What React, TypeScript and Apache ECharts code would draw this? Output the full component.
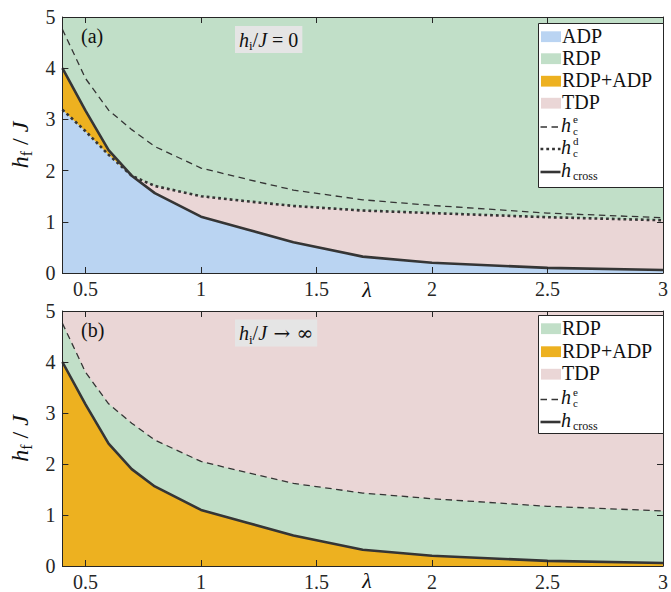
import React, { useEffect, useRef } from "react";
import * as echarts from "echarts";

// ---- data ----
const lambda = [0.4, 0.5, 0.6, 0.7, 0.8, 1.0, 1.2, 1.4, 1.7, 2.0, 2.5, 3.0];
const hCross = [4.0, 3.17, 2.4, 1.9, 1.56, 1.1, 0.85, 0.6, 0.32, 0.2, 0.1, 0.06];
const hcE = [4.76, 3.8, 3.18, 2.8, 2.47, 2.05, 1.83, 1.62, 1.43, 1.32, 1.17, 1.08];
const hcD = [3.19, 2.77, 2.31, 1.9, 1.7, 1.5, 1.4, 1.31, 1.22, 1.17, 1.09, 1.03];
const xTicks = [0.5, 1, 1.5, 2, 2.5, 3];
const legendAreasA = ["ADP", "RDP", "RDP+ADP", "TDP"];
const legendAreasB = ["RDP", "RDP+ADP", "TDP"];

const FONT = "'Liberation Serif', 'DejaVu Serif', serif";
const AX = "#262626";
const LINE = "#353535";
const TXT = "#111111";
const COL: Record<string, string> = {
  ADP: "#bad4f2",
  RDP: "#c1dfc8",
  "RDP+ADP": "#edb120",
  TDP: "#ead6d6",
};

const hMin = hCross.map((v, i) => Math.min(v, hcD[i]));

const pts = (ys: number[]) => lambda.map((x, i) => [x, ys[i]]);

const area = (name: string, ys: number[], color: string, idx: number) => ({
  name,
  type: "line",
  xAxisIndex: idx * 2,
  yAxisIndex: idx * 2,
  data: pts(ys),
  symbol: "none",
  silent: true,
  lineStyle: { width: 0, opacity: 0 },
  areaStyle: { color, opacity: 1 },
});

const curve = (name: string, ys: number[], style: any, idx: number) => ({
  name,
  type: "line",
  xAxisIndex: idx * 2,
  yAxisIndex: idx * 2,
  data: pts(ys),
  symbol: "none",
  silent: true,
  lineStyle: { color: LINE, cap: "butt", join: "round", ...style },
});

const SOLID = { width: 2.6, type: "solid" };
const DASHED = { width: 1.3, type: [6.5, 4.5] };
const DOTTED = { width: 2.6, type: [2.8, 3] };

const richMath = (size: number) => ({
  h: { fontSize: size, fontStyle: "italic", fontFamily: FONT, lineHeight: size + 5, color: TXT },
  s: {
    fontSize: Math.round(size * 0.65),
    fontFamily: FONT,
    lineHeight: Math.round(size * 0.65),
    verticalAlign: "bottom",
    color: TXT,
  },
  m: { fontSize: size, fontFamily: FONT, lineHeight: size + 5, color: TXT },
  a: { fontSize: size, fontFamily: "'DejaVu Serif', serif", lineHeight: size + 5, color: TXT },
});

const txt = (
  x: number,
  y: number,
  text: string,
  size: number,
  italic = false,
  align = "left",
  lineHeight?: number
) => ({
  type: "text",
  x,
  y,
  z: 100,
  silent: true,
  style: {
    text,
    fontSize: size,
    fontFamily: FONT,
    fontStyle: italic ? "italic" : "normal",
    fill: TXT,
    align,
    textAlign: align,
    verticalAlign: "middle",
    textVerticalAlign: "middle",
    ...(lineHeight ? { lineHeight } : {}),
  },
});

const mathBox = (x: number, y: number, text: string) => ({
  type: "text",
  x,
  y,
  z: 100,
  silent: true,
  style: {
    text,
    rich: richMath(20),
    fontFamily: FONT,
    fontSize: 20,
    fill: TXT,
    backgroundColor: "#e5e5e5",
    padding: [1, 4, 1, 4],
    align: "left",
    textAlign: "left",
    verticalAlign: "middle",
    textVerticalAlign: "middle",
  },
});

type Row =
  | { kind: "area"; label: string; c: number }
  | { kind: "line"; sup: string | null; sub: string; dash: any; c: number };

const buildLegend = (top: number, bottom: number, rows: Row[]) => {
  const els: any[] = [
    {
      type: "rect",
      z: 90,
      silent: true,
      shape: { x: 538.5, y: top + 0.5, width: 125, height: bottom - top },
      style: { fill: "#ffffff", stroke: AX, lineWidth: 1 },
    },
  ];
  rows.forEach((r) => {
    if (r.kind === "area") {
      els.push({
        type: "rect",
        z: 95,
        silent: true,
        shape: { x: 541, y: r.c - 4.2, width: 20, height: 10.8 },
        style: { fill: COL[r.label] },
      });
      els.push(txt(562, r.c, r.label, 20));
    } else {
      els.push({
        type: "line",
        z: 95,
        silent: true,
        shape: { x1: 540.5, y1: r.c + 2.5, x2: 560.5, y2: r.c + 2.5 },
        style: { stroke: LINE, lineWidth: r.dash.width, lineDash: r.dash.type === "solid" ? null : r.dash.type },
      });
      els.push(txt(561, r.c, "h", 20, true, "left", 20));
      if (r.sup) {
        els.push(txt(573, r.c + 0.5, r.sup + "\n" + r.sub, 11, false, "left", 11.5));
      } else {
        els.push(txt(573, r.c + 6, r.sub, 12, false, "left", 9));
      }
    }
  });
  return els;
};

const legendA: Row[] = [
  ...legendAreasA.map((label, i) => ({ kind: "area" as const, label, c: [35.5, 57.5, 80, 102][i] })),
  { kind: "line", sup: "e", sub: "c", dash: DASHED, c: 124.5 },
  { kind: "line", sup: "d", sub: "c", dash: DOTTED, c: 146.5 },
  { kind: "line", sup: null, sub: "cross", dash: SOLID, c: 169.5 },
];
const legendB: Row[] = [
  ...legendAreasB.map((label, i) => ({ kind: "area" as const, label, c: [327.5, 350.5, 373][i] })),
  { kind: "line", sup: "e", sub: "c", dash: DASHED, c: 397 },
  { kind: "line", sup: null, sub: "cross", dash: SOLID, c: 419.5 },
];

const xAxisDef = (gi: number, pos: "bottom" | "top") => ({
  type: "value",
  gridIndex: gi,
  position: pos,
  min: 0.4,
  max: 3,
  z: 10,
  axisLine: { show: true, onZero: false, lineStyle: { color: AX, width: 1 } },
  axisTick: { show: true, inside: true, length: 6, customValues: xTicks, lineStyle: { color: AX, width: 1 } },
  axisLabel: {
    show: pos === "bottom",
    customValues: xTicks,
    margin: 6,
    fontFamily: FONT,
    fontSize: 20,
    color: AX,
  },
  splitLine: { show: false },
});

const yAxisDef = (gi: number, pos: "left" | "right") => ({
  type: "value",
  gridIndex: gi,
  position: pos,
  min: 0,
  max: 5,
  interval: 1,
  z: 10,
  axisLine: { show: true, onZero: false, lineStyle: { color: AX, width: 1 } },
  axisTick: { show: true, inside: true, length: 6, lineStyle: { color: AX, width: 1 } },
  axisLabel: { show: pos === "left", margin: 7, fontFamily: FONT, fontSize: 20, color: AX },
  splitLine: { show: false },
  ...(pos === "left"
    ? {
        name: "{h|h}{s|f}{m| / }{h|J}",
        nameLocation: "middle",
        nameGap: 27,
        nameTextStyle: { rich: richMath(24), fontFamily: FONT },
      }
    : {}),
});

export default function App() {
  const ref = useRef<HTMLDivElement>(null);
  useEffect(() => {
    if (!ref.current) return;
    const chart = echarts.init(ref.current, null, { renderer: "svg" });
    chart.setOption({
      animation: false,
      backgroundColor: "#ffffff",
      grid: [
        { left: 52, top: 17, width: 617, height: 256, show: true, backgroundColor: COL.RDP, borderWidth: 0 },
        { left: 52, top: 311, width: 617, height: 256, show: true, backgroundColor: COL.TDP, borderWidth: 0 },
      ],
      xAxis: [xAxisDef(0, "bottom"), xAxisDef(0, "top"), xAxisDef(1, "bottom"), xAxisDef(1, "top")],
      yAxis: [yAxisDef(0, "left"), yAxisDef(0, "right"), yAxisDef(1, "left"), yAxisDef(1, "right")],
      series: [
        // panel (a)
        area("TDP", hcD, COL.TDP, 0),
        area("RDP+ADP", hCross, COL["RDP+ADP"], 0),
        area("ADP", hMin, COL.ADP, 0),
        curve("h_c^e", hcE, DASHED, 0),
        curve("h_c^d", hcD, DOTTED, 0),
        curve("h_cross", hCross, SOLID, 0),
        // panel (b)
        area("RDP", hcE, COL.RDP, 1),
        area("RDP+ADP b", hCross, COL["RDP+ADP"], 1),
        curve("h_c^e b", hcE, DASHED, 1),
        curve("h_cross b", hCross, SOLID, 1),
      ],
      graphic: [
        txt(81, 35.5, "(a)", 20),
        txt(81, 329.5, "(b)", 20),
        txt(367, 289, "λ", 22, true, "center", 20),
        txt(367, 580, "λ", 22, true, "center", 20),
        mathBox(235, 39.5, "{h|h}{s|i}{m|/}{h|J}{m| = 0}"),
        mathBox(235, 333, "{h|h}{s|i}{m|/}{h|J}{a| → ∞}"),
        ...buildLegend(23, 187, legendA),
        ...buildLegend(315, 433, legendB),
      ],
    });
    return () => chart.dispose();
  }, []);
  return (
    <div
      ref={ref}
      style={{ position: "fixed", left: 0, top: 0, width: 671, height: 592, background: "#fff" }}
    />
  );
}
